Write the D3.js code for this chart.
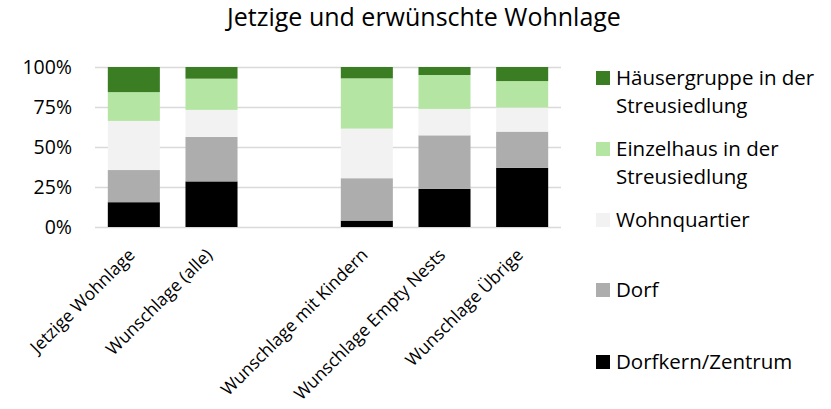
<!DOCTYPE html>
<html>
<head>
<meta charset="utf-8">
<script src="https://cdn.jsdelivr.net/npm/d3@7"></script>
<style>
  body { margin: 0; background: #fff; }
  text { font-family: "Open Sans", sans-serif; fill: #000; }
</style>
</head>
<body>
<div id="chart"></div>
<script>
// Kategorien (leere Lücke an Position 3)
const categories = ["Jetzige Wohnlage", "Wunschlage (alle)", " ", "Wunschlage mit Kindern", "Wunschlage Empty Nests", "Wunschlage Übrige"];

// Werte in % (unten nach oben)
const dorfkern     = [15.5, 28.5, 0, 4.0, 23.8, 37.0];
const dorf         = [20.1, 27.8, 0, 26.5, 33.5, 22.6];
const wohnquartier = [30.7, 16.9, 0, 31.0, 16.5, 15.1];
const einzelhaus   = [18.0, 19.5, 0, 31.4, 21.2, 16.5];
const haeuser      = [15.7, 7.3, 0, 7.1, 5.0, 8.8];

const seriesNames = ["Dorfkern/Zentrum", "Dorf", "Wohnquartier", "Einzelhaus in der Streusiedlung", "Häusergruppe in der Streusiedlung"];
const seriesValues = [dorfkern, dorf, wohnquartier, einzelhaus, haeuser];
const colors = ["#000000", "#adadad", "#f2f2f2", "#b4e5a2", "#3b7d23"];
const yTicks = [0, 0.25, 0.5, 0.75, 1];

const width = 831, height = 409;
const x0 = 95, x1 = 561, yTop = 67, yBottom = 227;

const rows = categories.map((c, i) => {
    const r = { cat: c };
    seriesNames.forEach((s, j) => r[s] = seriesValues[j][i] / 100);
    return r;
});

const svg = d3.select("#chart")
    .append("svg")
    .attr("width", width)
    .attr("height", height);

// Titel
svg.append("text")
    .attr("x", 424)
    .attr("y", 26)
    .style("text-anchor", "middle")
    .style("font-size", "25px")
    .text("Jetzige und erwünschte Wohnlage");

const x = d3.scaleBand()
    .domain(categories)
    .range([x0, x1])
    .paddingInner(0.33)
    .paddingOuter(0.165);

const y = d3.scaleLinear()
    .domain([0, 1])
    .range([yBottom, yTop]);

// Gitterlinien + y-Achse
const yAxis = svg.append("g")
    .attr("transform", `translate(${x0},0)`)
    .call(d3.axisLeft(y).tickValues(yTicks).tickFormat(d3.format(".0%")).tickSize(-(x1 - x0)).tickPadding(23))
    .attr("font-size", 19.5)
    .attr("font-family", "'Open Sans', sans-serif");
yAxis.select(".domain").remove();
yAxis.selectAll("line").attr("stroke", "#d9d9d9").attr("stroke-width", 1.3);
yAxis.selectAll("text").style("font-size", "19.5px");

// Balken
const stack = d3.stack().keys(seriesNames);
const stacked = stack(rows);

svg.selectAll(".layer")
    .data(stacked)
    .join("g")
    .attr("class", "layer")
    .attr("fill", (d, i) => colors[i])
    .selectAll("rect")
    .data(d => d.filter(p => p[1] > p[0]))
    .join("rect")
    .attr("x", d => x(d.data.cat))
    .attr("width", x.bandwidth())
    .attr("y", d => y(d[1]))
    .attr("height", d => y(d[0]) - y(d[1]));

// x-Beschriftungen
svg.selectAll(".xlabel")
    .data(categories.filter(c => c.trim() !== ""))
    .join("text")
    .attr("class", "xlabel")
    .attr("transform", d => `translate(${x(d) + x.bandwidth() / 2 + 2},${yBottom + 29}) rotate(-45)`)
    .style("text-anchor", "end")
    .style("font-size", "17.5px")
    .text(d => d);

// Legende (oben = oberste Serie)
const legendLines = [
    ["Häusergruppe in der", "Streusiedlung"],
    ["Einzelhaus in der", "Streusiedlung"],
    ["Wohnquartier"],
    ["Dorf"],
    ["Dorfkern/Zentrum"]
];
const legendColors = colors.slice().reverse();
const legendY = [78, 149, 220, 290, 362];

const legend = svg.selectAll(".legend")
    .data(legendLines)
    .join("g")
    .attr("class", "legend")
    .attr("transform", (d, i) => `translate(596,${legendY[i]})`);

legend.append("rect")
    .attr("x", 0)
    .attr("y", -7)
    .attr("width", 14)
    .attr("height", 14)
    .attr("fill", (d, i) => legendColors[i]);

legend.append("text")
    .attr("x", 20)
    .attr("y", 7)
    .style("font-size", "20.5px")
    .selectAll("tspan")
    .data(d => d)
    .join("tspan")
    .attr("x", 20)
    .attr("dy", (d, i) => i === 0 ? 0 : 28)
    .text(d => d);
</script>
</body>
</html>
